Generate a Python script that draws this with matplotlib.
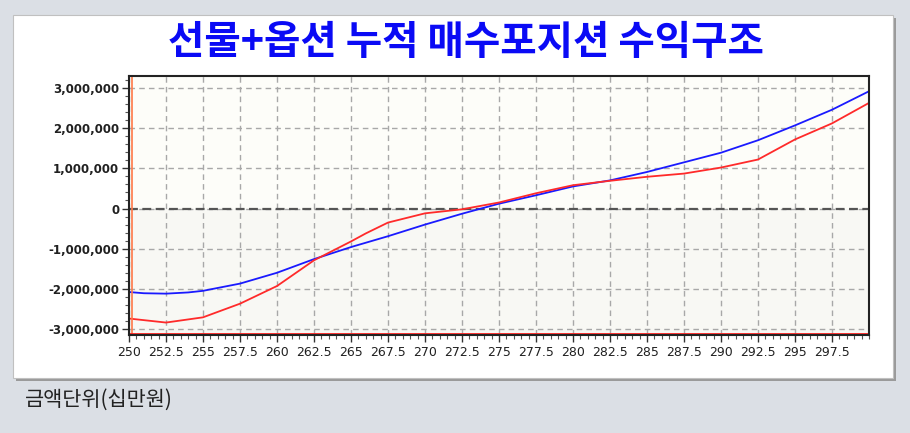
import numpy as np
import matplotlib.pyplot as plt
from matplotlib.patches import Rectangle
from matplotlib.ticker import MultipleLocator, FuncFormatter

plt.rcParams['font.family'] = ['DejaVu Sans']

# underlying price points
x_red = [250, 251, 252.5, 255, 257.5, 260, 262.5, 265, 266, 267.5, 270, 272.5,
         275, 277.5, 280, 282.5, 285, 287.5, 290, 292.5, 295, 297.5, 300]
# futures+options cumulative long P/L (red)
y_red = [-2.74, -2.78, -2.84, -2.71, -2.37, -1.93, -1.29, -0.82, -0.62, -0.35, -0.12, -0.02,
         0.15, 0.38, 0.58, 0.69, 0.79, 0.87, 1.02, 1.22, 1.72, 2.12, 2.63]

x_blue = [250, 251, 252.5, 254, 255, 257.5, 260, 262.5, 265, 267.5, 270, 272.5,
          275, 277.5, 280, 282.5, 285, 287.5, 290, 292.5, 295, 297.5, 300]
y_blue = [-2.08, -2.11, -2.12, -2.09, -2.05, -1.87, -1.60, -1.26, -0.96, -0.69, -0.40, -0.13,
          0.12, 0.33, 0.55, 0.70, 0.91, 1.15, 1.39, 1.70, 2.07, 2.46, 2.92]

x_ticks = np.arange(250, 300, 2.5)
y_ticks = [-3e6, -2e6, -1e6, 0, 1e6, 2e6, 3e6]

title = '선물+옵션 누적 매수포지션 수익구조'
unit_note = '금액단위(십만원)'

W, H = 910, 433
fig = plt.figure(figsize=(W / 100, H / 100), dpi=100)
fig.patch.set_facecolor('#dbdfe5')

# white panel with shadow
fig.patches.append(Rectangle((16 / W, 1 - 381 / H), 880 / W, 363 / H, transform=fig.transFigure,
                             facecolor='#9a9a9a', edgecolor='none', zorder=-3))
fig.patches.append(Rectangle((13 / W, 1 - 378 / H), 880 / W, 363 / H, transform=fig.transFigure,
                             facecolor='white', edgecolor='#c0c0c0', lw=0.8, zorder=-2))

ax = fig.add_axes([129 / W, 1 - 335 / H, 740 / W, 259 / H])
ax.set_facecolor('#fdfdf9')
ax.set_xlim(250, 300)
ax.set_ylim(-3.15e6, 3.3e6)
ax.axhspan(-3.15e6, 0, color='#f8f8f4', zorder=0, lw=0)

ax.set_axisbelow(True)
ax.grid(True, which='major', color='#a8a8a8', linestyle=(0, (4, 3)), lw=1)
ax.axhline(0, color='#555555', linestyle=(0, (4, 2)), lw=1.6, zorder=2)

ax.plot(x_blue, np.array(y_blue) * 1e6, color='#1a1aff', lw=1.3, zorder=3)
ax.plot(x_red, np.array(y_red) * 1e6, color='#ff2a2a', lw=1.3, zorder=3)

ax.xaxis.set_major_locator(plt.FixedLocator(x_ticks))
ax.xaxis.set_minor_locator(MultipleLocator(0.5))
ax.yaxis.set_major_locator(plt.FixedLocator(y_ticks))
ax.yaxis.set_minor_locator(MultipleLocator(200000))
ax.xaxis.set_major_formatter(FuncFormatter(lambda v, p: ('%g' % v)))
ax.yaxis.set_major_formatter(FuncFormatter(lambda v, p: '{:,.0f}'.format(v)))

ax.tick_params(axis='both', which='major', direction='out', length=5, width=1, color='#333333')
ax.tick_params(axis='both', which='minor', direction='out', length=3, width=0.8, color='#555555')
ax.tick_params(axis='x', labelsize=9, labelcolor='#202020', pad=3)
ax.tick_params(axis='y', labelsize=8.5, labelcolor='#202020', pad=2)
for lab in ax.get_yticklabels():
    lab.set_fontweight('bold')

for s in ax.spines.values():
    s.set_color('#222222')
    s.set_linewidth(1.5)
    s.set_zorder(5)
# coloured edges along the left and bottom axis
ax.plot([0.004, 0.004], [0, 1], transform=ax.transAxes, color='#ff7848', lw=1.2, zorder=4, clip_on=False)
ax.plot([0, 1], [0.0035, 0.0035], transform=ax.transAxes, color='#ff2020', lw=1.3, zorder=4, clip_on=False)

fig.text(466 / W, 1 - 42 / H, title, ha='center', va='center', fontsize=28.5, fontweight='bold',
         color='#0a0af5', family=['Noto Sans CJK KR', 'DejaVu Sans'])
fig.text(25 / W, 1 - 400 / H, unit_note, ha='left', va='center', fontsize=15,
         color='#222222', family=['Noto Sans CJK KR', 'DejaVu Sans'])

fig.savefig('out.png', dpi=100, facecolor=fig.get_facecolor())
